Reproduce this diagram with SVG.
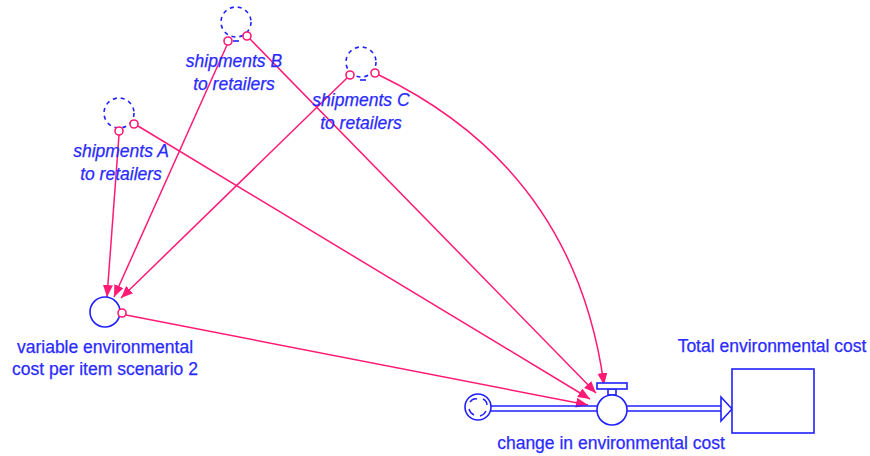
<svg xmlns="http://www.w3.org/2000/svg" width="870" height="456" viewBox="0 0 870 456">
  <style>
    .lbl { font-family: "Liberation Sans", Arial, sans-serif; font-size: 17.5px; fill: #2b2bff; stroke: #2b2bff; stroke-width: 0.25; text-anchor: middle; }
    .it { font-style: italic; }
    .shape { fill: #ffffff; stroke: #2020ff; stroke-width: 1.6; }
    .ghost { fill: none; stroke: #2020ff; stroke-width: 1.6; stroke-dasharray: 4 4; }
    .port { fill: #ffffff; stroke: #ff1a75; stroke-width: 1.6; }
    .link { fill: none; stroke: #ff1a75; stroke-width: 1.5; marker-end: url(#head); }
    .pipe { fill: none; stroke: #2020ff; stroke-width: 1.6; }
  </style>
  <defs>
    <marker id="head" markerUnits="userSpaceOnUse" markerWidth="14" markerHeight="12" refX="12" refY="5" orient="auto">
      <path d="M0,0 L12,5 L0,10 z" fill="#ff1a75"/>
    </marker>
  </defs>

  <rect width="870" height="456" fill="#ffffff"/>

  <!-- influence links -->
  <g id="connectors">
    <path class="link" d="M119,135 Q113,220 107,297"/>
    <path class="link" d="M227,45 L114,297"/>
    <path class="link" d="M347,78 L121,298"/>
    <path class="link" d="M138,126 L590,399"/>
    <path class="link" d="M250,39 L596,393"/>
    <path class="link" d="M379,75 Q575,170 604,385"/>
    <path class="link" d="M126,315 L588,405"/>
  </g>

  <!-- material flow pipe -->
  <g id="flow-pipe">
    <line class="pipe" x1="491" y1="406" x2="598" y2="406"/>
    <line class="pipe" x1="491" y1="411" x2="598" y2="411"/>
    <line class="pipe" x1="626" y1="406" x2="721" y2="406"/>
    <line class="pipe" x1="626" y1="411" x2="721" y2="411"/>
    <polygon class="shape" points="721,406 721,397 732,409 721,421 721,411"/>
  </g>

  <g id="shipments-A">
    <circle class="ghost" cx="119" cy="113" r="15"/>
    <circle class="port" cx="119" cy="131" r="4"/>
    <circle class="port" cx="134" cy="124" r="4"/>
    <text class="lbl it" x="121" y="157">shipments A</text>
    <text class="lbl it" x="121" y="180">to retailers</text>
  </g>

  <g id="shipments-B">
    <circle class="ghost" cx="236" cy="22" r="15"/>
    <line x1="233" y1="41" x2="239" y2="41" stroke="#2020ff" stroke-width="1.6"/>
    <circle class="port" cx="228" cy="41" r="4"/>
    <circle class="port" cx="247" cy="36" r="4"/>
    <text class="lbl it" x="234" y="67">shipments B</text>
    <text class="lbl it" x="234" y="90">to retailers</text>
  </g>

  <g id="shipments-C">
    <circle class="ghost" cx="361" cy="62" r="15"/>
    <line x1="360" y1="80" x2="366" y2="80" stroke="#2020ff" stroke-width="1.6"/>
    <circle class="port" cx="350" cy="75" r="4"/>
    <circle class="port" cx="375" cy="73" r="4"/>
    <text class="lbl it" x="361" y="106">shipments C</text>
    <text class="lbl it" x="361" y="129">to retailers</text>
  </g>

  <g id="variable-cost">
    <circle class="shape" cx="105" cy="312" r="15"/>
    <circle class="port" cx="122" cy="313" r="4"/>
    <text class="lbl" x="105" y="353">variable environmental</text>
    <text class="lbl" x="105" y="375">cost per item scenario 2</text>
  </g>

  <g id="source-cloud">
    <circle class="shape" cx="478" cy="407" r="13"/>
    <path d="M470,402 q3,-4 7,-3 M483,399 q4,2 4,6 M486,411 q-2,4 -6,5 M474,415 q-4,-2 -5,-6" fill="none" stroke="#2020ff" stroke-width="1.4"/>
  </g>

  <g id="change-in-environmental-cost">
    <rect class="shape" x="608" y="389" width="8" height="6"/>
    <rect class="shape" x="597" y="383" width="30" height="6"/>
    <circle class="shape" cx="612" cy="410" r="15"/>
    <text class="lbl" x="611" y="449">change in environmental cost</text>
  </g>

  <g id="total-environmental-cost">
    <rect class="shape" x="732" y="369" width="82" height="64" stroke-width="2"/>
    <text class="lbl" x="772" y="352">Total environmental cost</text>
  </g>
</svg>
